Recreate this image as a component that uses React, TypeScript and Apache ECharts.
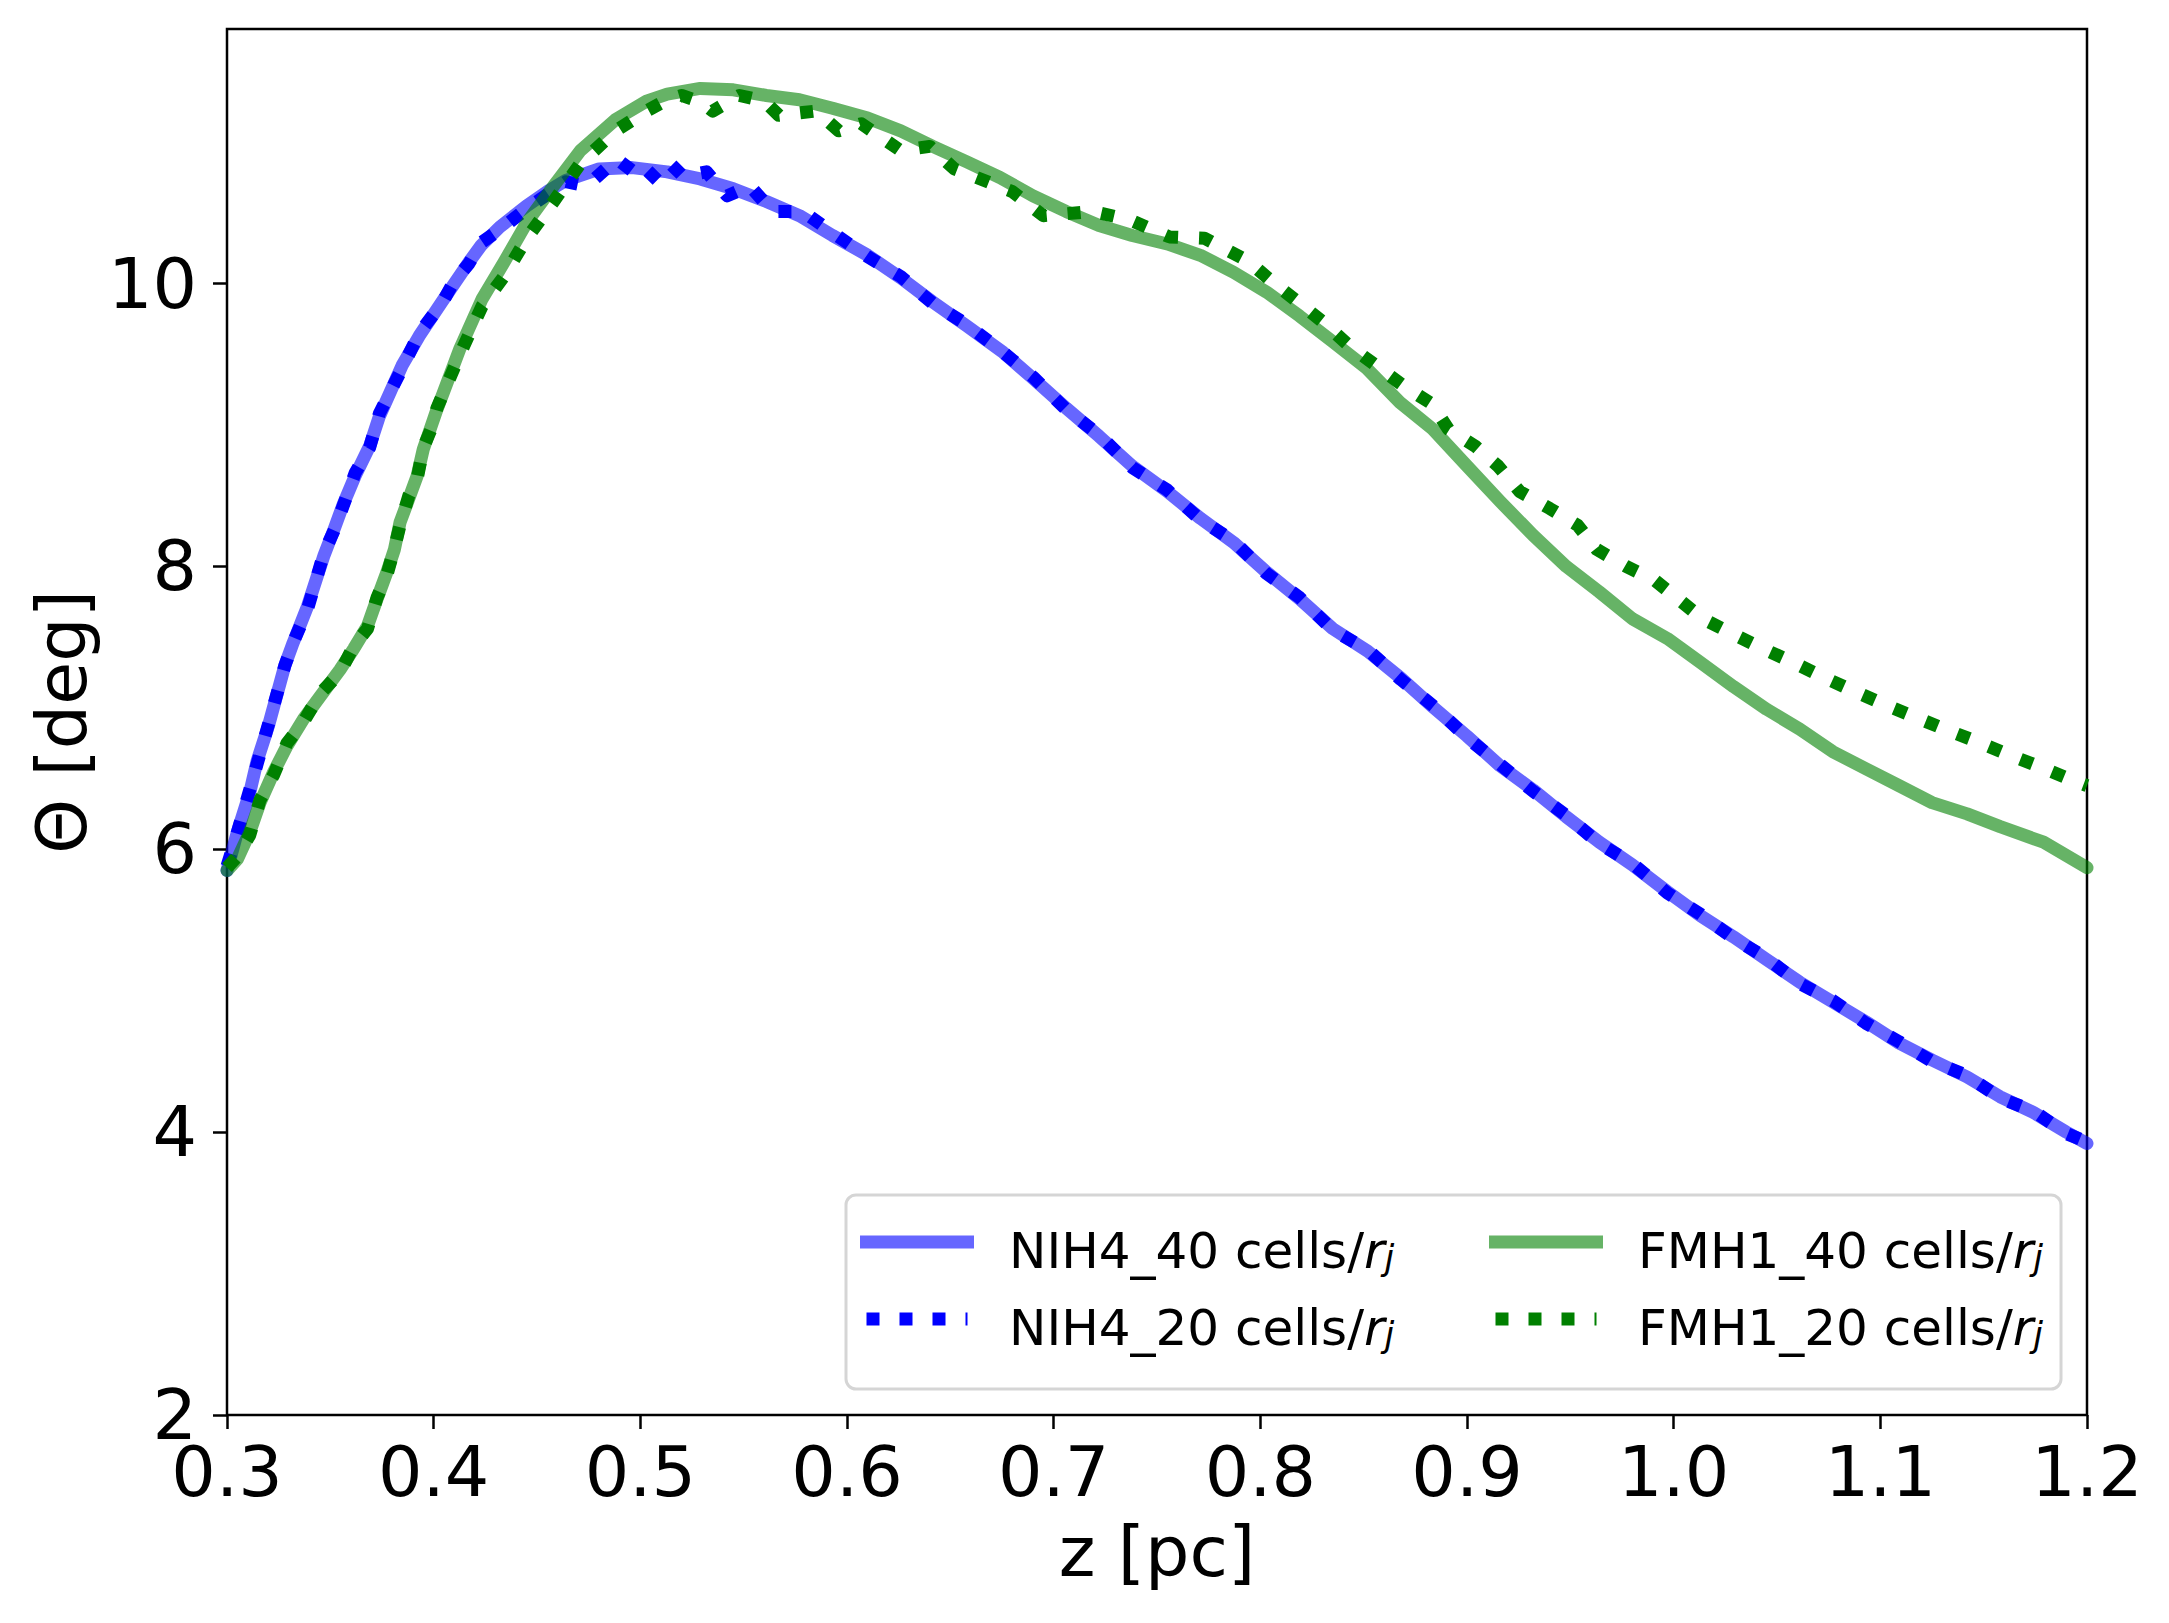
import React, { useEffect, useRef } from "react";
import * as echarts from "echarts";

// ---- data ----
const xTicks = [0.3, 0.4, 0.5, 0.6, 0.7, 0.8, 0.9, 1.0, 1.1, 1.2];
const yTicks = [2, 4, 6, 8, 10];

const zNIH40 = [0.300, 0.305, 0.311, 0.3145, 0.320, 0.328, 0.332, 0.339, 0.347, 0.352, 0.356, 0.362, 0.369, 0.3737, 0.3847, 0.393, 0.404, 0.410, 0.417, 0.423, 0.432, 0.445, 0.456, 0.464, 0.480, 0.496, 0.513, 0.529, 0.545, 0.561, 0.577, 0.593, 0.610, 0.626, 0.6415, 0.658, 0.675, 0.690, 0.706, 0.722, 0.738, 0.755, 0.771, 0.787, 0.803, 0.819, 0.835, 0.852, 0.868, 0.884, 0.900, 0.916, 0.932, 0.948, 0.964, 0.980, 0.997, 1.013, 1.029, 1.045, 1.061, 1.077, 1.093, 1.109, 1.125, 1.142, 1.158, 1.174, 1.190, 1.200];
const thetaNIH40 = [5.85, 6.12, 6.40, 6.62, 6.87, 7.30, 7.46, 7.72, 8.08, 8.27, 8.43, 8.64, 8.85, 9.06, 9.42, 9.63, 9.87, 10.00, 10.15, 10.27, 10.40, 10.55, 10.66, 10.73, 10.81, 10.82, 10.79, 10.74, 10.67, 10.58, 10.48, 10.34, 10.20, 10.04, 9.87, 9.70, 9.52, 9.33, 9.12, 8.92, 8.71, 8.53, 8.34, 8.17, 7.96, 7.77, 7.56, 7.40, 7.21, 7.00, 6.80, 6.59, 6.42, 6.23, 6.05, 5.89, 5.70, 5.53, 5.38, 5.22, 5.06, 4.92, 4.78, 4.63, 4.51, 4.39, 4.25, 4.14, 4.00, 3.92];

const zNIH20 = [0.300, 0.305, 0.311, 0.3145, 0.320, 0.328, 0.332, 0.339, 0.347, 0.352, 0.356, 0.362, 0.369, 0.3737, 0.3847, 0.393, 0.404, 0.410, 0.417, 0.423, 0.432, 0.445, 0.456, 0.464, 0.474, 0.4887, 0.503, 0.513, 0.5206, 0.532, 0.542, 0.553, 0.564, 0.5787, 0.593, 0.610, 0.626, 0.6415, 0.658, 0.675, 0.690, 0.706, 0.722, 0.738, 0.755, 0.771, 0.787, 0.803, 0.819, 0.835, 0.852, 0.868, 0.884, 0.900, 0.916, 0.932, 0.948, 0.964, 0.980, 0.997, 1.013, 1.029, 1.045, 1.061, 1.077, 1.093, 1.109, 1.125, 1.142, 1.158, 1.174, 1.190, 1.200];
const thetaNIH20 = [5.88, 6.12, 6.42, 6.60, 6.88, 7.30, 7.46, 7.70, 8.10, 8.26, 8.42, 8.66, 8.84, 9.08, 9.40, 9.65, 9.86, 10.02, 10.14, 10.29, 10.38, 10.53, 10.64, 10.72, 10.69, 10.88, 10.72, 10.87, 10.76, 10.79, 10.62, 10.69, 10.51, 10.51, 10.36, 10.19, 10.05, 9.86, 9.71, 9.52, 9.34, 9.11, 8.93, 8.70, 8.54, 8.33, 8.18, 7.95, 7.78, 7.55, 7.41, 7.20, 7.01, 6.79, 6.60, 6.41, 6.24, 6.04, 5.90, 5.69, 5.54, 5.37, 5.23, 5.05, 4.93, 4.77, 4.64, 4.50, 4.40, 4.24, 4.15, 3.99, 3.93];

const zFMH40 = [0.300, 0.305, 0.311, 0.316, 0.3227, 0.329, 0.337, 0.345, 0.3547, 0.3614, 0.368, 0.3726, 0.3774, 0.381, 0.3837, 0.388, 0.392, 0.395, 0.399, 0.4016, 0.4127, 0.4234, 0.434, 0.445, 0.458, 0.471, 0.488, 0.503, 0.513, 0.529, 0.545, 0.561, 0.577, 0.593, 0.610, 0.626, 0.6415, 0.658, 0.674, 0.690, 0.706, 0.722, 0.738, 0.755, 0.771, 0.787, 0.803, 0.819, 0.835, 0.8515, 0.8675, 0.8835, 0.900, 0.916, 0.932, 0.948, 0.964, 0.980, 0.997, 1.013, 1.029, 1.045, 1.061, 1.077, 1.093, 1.109, 1.125, 1.142, 1.158, 1.179, 1.200];
const thetaFMH40 = [5.85, 5.93, 6.12, 6.33, 6.55, 6.73, 6.92, 7.08, 7.27, 7.42, 7.58, 7.77, 7.96, 8.12, 8.31, 8.48, 8.64, 8.83, 9.00, 9.11, 9.54, 9.89, 10.15, 10.43, 10.69, 10.94, 11.16, 11.29, 11.34, 11.38, 11.37, 11.33, 11.30, 11.24, 11.17, 11.08, 10.97, 10.86, 10.75, 10.62, 10.51, 10.41, 10.34, 10.28, 10.20, 10.08, 9.94, 9.77, 9.59, 9.40, 9.16, 8.97, 8.71, 8.46, 8.22, 8.00, 7.82, 7.63, 7.49, 7.32, 7.15, 6.99, 6.85, 6.69, 6.57, 6.45, 6.33, 6.25, 6.16, 6.05, 5.87];

const zFMH20 = [0.300, 0.305, 0.311, 0.316, 0.3227, 0.329, 0.337, 0.345, 0.3547, 0.3614, 0.368, 0.3726, 0.3774, 0.381, 0.3837, 0.388, 0.392, 0.395, 0.399, 0.4016, 0.4127, 0.4234, 0.434, 0.445, 0.458, 0.471, 0.488, 0.503, 0.513, 0.520, 0.530, 0.535, 0.548, 0.560, 0.567, 0.585, 0.596, 0.607, 0.626, 0.640, 0.652, 0.668, 0.680, 0.695, 0.719, 0.737, 0.756, 0.773, 0.794, 0.806, 0.819, 0.831, 0.843, 0.856, 0.869, 0.883, 0.891, 0.904, 0.915, 0.9255, 0.940, 0.9536, 0.9628, 0.977, 0.991, 1.003, 1.014, 1.029, 1.043, 1.058, 1.072, 1.087, 1.101, 1.116, 1.131, 1.147, 1.162, 1.176, 1.191, 1.200];
const thetaFMH20 = [5.87, 5.95, 6.10, 6.35, 6.53, 6.75, 6.90, 7.10, 7.25, 7.44, 7.56, 7.78, 7.94, 8.13, 8.29, 8.50, 8.62, 8.84, 8.98, 9.12, 9.50, 9.84, 10.05, 10.32, 10.58, 10.85, 11.08, 11.22, 11.30, 11.33, 11.28, 11.22, 11.33, 11.29, 11.19, 11.22, 11.08, 11.13, 10.94, 10.97, 10.81, 10.72, 10.65, 10.48, 10.51, 10.45, 10.33, 10.32, 10.16, 10.01, 9.86, 9.72, 9.56, 9.42, 9.28, 9.15, 8.97, 8.85, 8.71, 8.53, 8.41, 8.29, 8.12, 8.00, 7.90, 7.76, 7.63, 7.52, 7.42, 7.32, 7.22, 7.12, 7.03, 6.94, 6.85, 6.76, 6.67, 6.59, 6.50, 6.45];

const seriesNames = ["NIH4_40", "NIH4_20", "FMH1_40", "FMH1_20"];

const pairs = (zs: number[], ts: number[]) => zs.map((z, i) => [z, ts[i]]);

const FONT = "DejaVu Sans";
const ICON_SOLID = "path://M0,0h114v13h-114z";
const ICON_DOTTED = "path://M7,0h13v13h-13zM40,0h13v13h-13zM73,0h13v13h-13zM106,0h2v13h-2z";

export default function App() {
  const ref = useRef<HTMLDivElement>(null);
  useEffect(() => {
    if (!ref.current) return;
    const chart = echarts.init(ref.current, null, { renderer: "svg" });
    const solid = (color: string) => ({ color, width: 13, type: "solid" as const, cap: "round" as const, join: "round" as const });
    const dotted = (color: string) => ({ color, width: 13, type: [13, 21], cap: "butt" as const, join: "round" as const });
    const legendFormatter = (name: string) => `{n|${name} cells/}{i|r}{s|j}`;
    const legendText = {
      fontFamily: FONT,
      color: "#000",
      rich: {
        n: { fontFamily: FONT, fontSize: 50, lineHeight: 66, padding: [18, 0, 0, 30], color: "#000" },
        i: { fontFamily: FONT, fontSize: 50, lineHeight: 66, padding: [18, 0, 0, 0], fontStyle: "italic", color: "#000" },
        s: { fontFamily: FONT, fontSize: 35, lineHeight: 66, padding: [18, 0, 0, 0], fontStyle: "italic", verticalAlign: "bottom", color: "#000" },
      },
    };
    const legendCommon = {
      orient: "vertical",
      top: 1208,
      padding: 0,
      itemGap: 9,
      itemWidth: 114,
      itemHeight: 13,
      symbolKeepAspect: true,
      formatter: legendFormatter,
      textStyle: legendText,
    };
    chart.setOption({
      animation: false,
      backgroundColor: "#fff",
      textStyle: { fontFamily: FONT },
      grid: {
        left: 227, top: 29, right: 82, bottom: 208,
        show: true, borderColor: "#000", borderWidth: 2.5, backgroundColor: "transparent",
      },
      xAxis: {
        type: "value",
        min: xTicks[0],
        max: xTicks[xTicks.length - 1],
        interval: 0.1,
        name: "z [pc]",
        nameLocation: "middle",
        nameGap: 102,
        nameTextStyle: { fontFamily: FONT, fontSize: 70, color: "#000" },
        axisLine: { show: false },
        axisTick: { show: true, inside: false, length: 14, lineStyle: { color: "#000", width: 2.5 } },
        axisLabel: { fontFamily: FONT, fontSize: 70, color: "#000", margin: 22, formatter: (v: number) => v.toFixed(1) },
        splitLine: { show: false },
      },
      yAxis: {
        type: "value",
        min: yTicks[0],
        max: 11.8,
        interval: 2,
        name: "Θ [deg]",
        nameLocation: "middle",
        nameGap: 128,
        nameTextStyle: { fontFamily: FONT, fontSize: 70, color: "#000" },
        axisLine: { show: false },
        axisTick: { show: true, inside: false, length: 14, lineStyle: { color: "#000", width: 2.5 } },
        axisLabel: { fontFamily: FONT, fontSize: 70, lineHeight: 40, color: "#000", margin: 30, showMaxLabel: false, formatter: (v: number) => String(Math.round(v)) },
        splitLine: { show: false },
      },
      legend: [
        {
          ...legendCommon,
          left: 860,
          data: [
            { name: seriesNames[0], icon: ICON_SOLID },
            { name: seriesNames[1], icon: ICON_DOTTED },
          ],
        },
        {
          ...legendCommon,
          left: 1489,
          data: [
            { name: seriesNames[2], icon: ICON_SOLID },
            { name: seriesNames[3], icon: ICON_DOTTED },
          ],
        },
      ],
      graphic: [
        {
          type: "rect",
          z: 3,
          shape: { x: 846, y: 1195, width: 1215, height: 194, r: 10 },
          style: { fill: "rgba(255,255,255,0.8)", stroke: "#d5d5d5", lineWidth: 3 },
        },
      ],
      series: [
        { name: seriesNames[0], type: "line", symbol: "none", data: pairs(zNIH40, thetaNIH40), lineStyle: solid("rgba(0,0,255,0.6)"), itemStyle: { color: "rgba(0,0,255,0.6)" } },
        { name: seriesNames[1], type: "line", symbol: "none", data: pairs(zNIH20, thetaNIH20), lineStyle: dotted("#0000ff"), itemStyle: { color: "#0000ff" } },
        { name: seriesNames[2], type: "line", symbol: "none", data: pairs(zFMH40, thetaFMH40), lineStyle: solid("rgba(0,128,0,0.6)"), itemStyle: { color: "rgba(0,128,0,0.6)" } },
        { name: seriesNames[3], type: "line", symbol: "none", data: pairs(zFMH20, thetaFMH20), lineStyle: dotted("#008000"), itemStyle: { color: "#008000" } },
      ],
    });
    return () => chart.dispose();
  }, []);
  return (
    <div
      ref={ref}
      style={{ position: "absolute", left: 0, top: 0, width: 2169, height: 1623, background: "#fff" }}
    />
  );
}
